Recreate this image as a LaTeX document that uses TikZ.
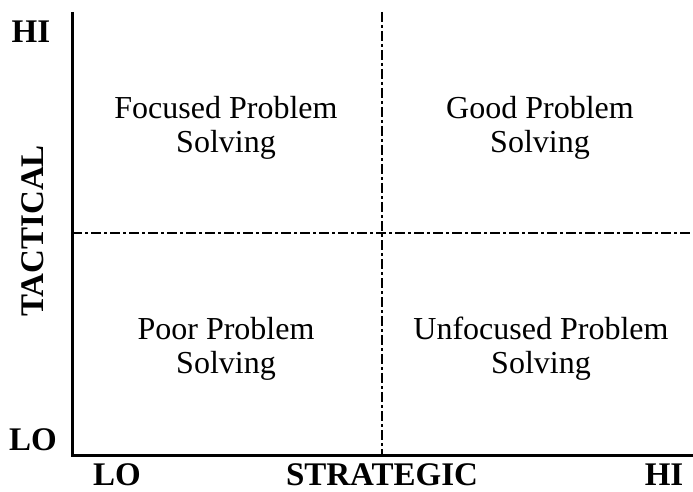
\documentclass[tikz,border=0pt]{standalone}
\usepackage{fontspec}
\setmainfont{Liberation Serif}
\begin{document}
\begin{tikzpicture}[x=1pt,y=-1pt,
  axis/.style={line width=3pt},
  divider/.style={line width=2pt, dash pattern=on 10pt off 3pt on 3pt off 3pt},
  quad/.style={align=center, anchor=base, font=\fontsize{32}{34}\selectfont, inner sep=0pt},
  lbl/.style={anchor=base, font=\fontsize{33}{35}\selectfont\bfseries, inner sep=0pt}]
  \useasboundingbox (0,0) rectangle (693,492);
  % frame corners
  \coordinate (top) at (72,12);
  \coordinate (origin) at (72,455);
  \coordinate (right) at (693,455);
  \coordinate (vtop) at (382,12);
  \coordinate (vbot) at (382,455);
  \coordinate (hleft) at (72,233);
  \coordinate (hright) at (693,233);
  % quadrant dividers
  \draw[divider] (vtop) -- (vbot);
  \draw[divider] (hleft) -- (hright);
  % axes
  \draw[axis] (top) -- (origin) -- (right);
  % quadrant labels (anchored at the baseline of the last line)
  \node[quad] (q1) at (226,152) {Focused Problem\\Solving};
  \node[quad] (q2) at (540,152) {Good Problem\\Solving};
  \node[quad] (q3) at (226,373) {Poor Problem\\Solving};
  \node[quad] (q4) at (541,373) {Unfocused Problem\\Solving};
  % vertical axis labels
  \node[lbl] (yhi) at (31,43) {HI};
  \node[lbl] (ylo) at (33,450) {LO};
  \node[lbl, rotate=90] (ytitle) at (43,231) {TACTICAL};
  % horizontal axis labels
  \node[lbl] (xlo) at (117,485) {LO};
  \node[lbl] (xtitle) at (382,485) {STRATEGIC};
  \node[lbl] (xhi) at (664,485) {HI};
\end{tikzpicture}
\end{document}
